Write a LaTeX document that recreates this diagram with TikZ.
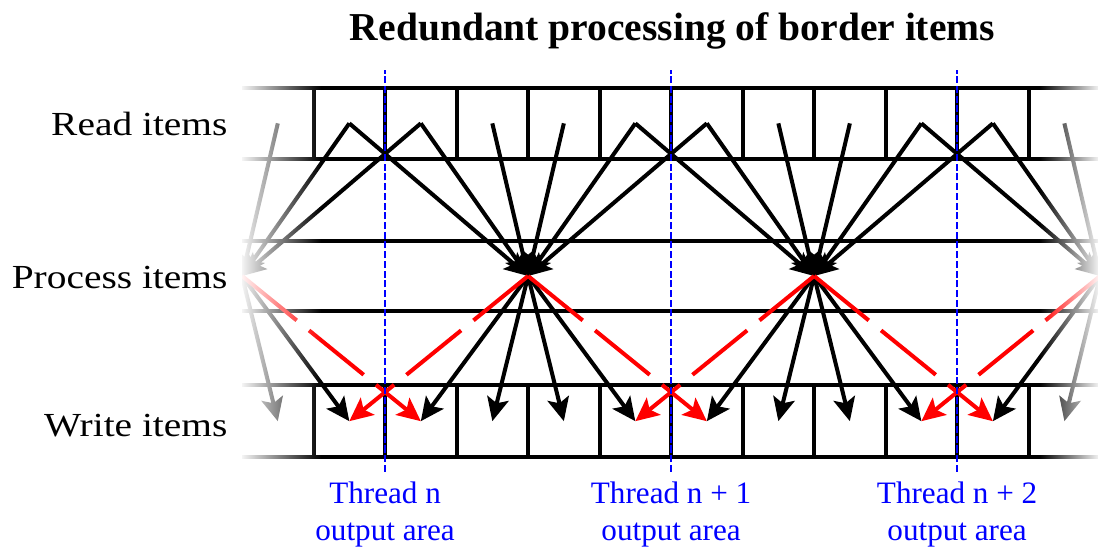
\documentclass[tikz,border=0pt]{standalone}
\usepackage{fontspec}
\setmainfont{Liberation Serif}
\newfontfamily\rowfont[FakeStretch=1.17]{Liberation Serif}
\usetikzlibrary{arrows.meta, fadings}

\begin{document}
\begin{tikzpicture}[
    x=1.5cm, y=1.5cm,
    grid/.style={line width=2.4pt},
    feed/.style={line width=2.4pt, -{Stealth[length=14pt, width=13pt, inset=3pt]}},
    spill/.style={feed, red, dash pattern=on 42pt off 9.5pt},
    border/.style={blue, line width=1.2pt, dash pattern=on 4.2pt off 1.6pt},
    rowlabel/.style={anchor=base east, inner sep=0pt,
                     font=\rowfont\fontsize{20.1}{24}\selectfont},
    threadlabel/.style={anchor=base, inner sep=0pt, align=center, text=blue,
                        font=\fontsize{18.6}{22.4}\selectfont}
  ]
  \useasboundingbox (-3.385,-1.30) rectangle (11.97,6.39);

  \foreach \i in {0,...,11} {
    \coordinate (r\i) at (\i+0.5,4.665);
    \coordinate (w\i) at (\i+0.5,0.5);
  }
  \foreach \j in {0,...,3}
    \coordinate (p\j) at (4*\j,2.53);

  \begin{scope}
    \clip (0,-0.5) rectangle (11.97,5.5);
    \foreach \y in {0,1,2.04,3.02,4.17,5.16}
      \draw[grid] (-0.5,\y) -- (12.5,\y);
    \foreach \x in {1,...,11} {
      \draw[grid] (\x,4.17) -- (\x,5.16);
      \draw[grid] (\x,0) -- (\x,1);
    }
    % every thread reads three items on each side of its split point
    \foreach \j in {0,...,3} {
      \foreach \d in {-3,...,2} {
        \pgfmathtruncatemacro{\i}{4*\j+\d}
        \ifnum\i>-1 \ifnum\i<12
          \draw[feed] (r\i) -- (p\j);
        \fi\fi
      }
    }
    % ... and writes two on each side, the outer ones are redundant
    \foreach \j in {0,...,3} {
      \foreach \d in {-2,...,1} {
        \pgfmathtruncatemacro{\i}{4*\j+\d}
        \ifnum\i>-1 \ifnum\i<12
          \draw[feed] (p\j) -- (w\i);
        \fi\fi
      }
      \foreach \d in {-3,2} {
        \pgfmathtruncatemacro{\i}{4*\j+\d}
        \ifnum\i>-1 \ifnum\i<12
          \draw[spill] (p\j) -- (w\i);
        \fi\fi
      }
    }
    \fill[white, path fading=east] (-0.05,-0.5) rectangle (1.1,5.5);
    \fill[white, path fading=west] (11.15,-0.5) rectangle (12.02,5.5);
  \end{scope}

  \foreach \x in {2,6,10}
    \draw[border] (\x,-0.21) -- (\x,5.41);

  \node[font=\fontsize{23.6}{28}\selectfont\bfseries, anchor=base, inner sep=0pt]
    (title) at (6.02,5.83) {Redundant processing of border items};
  \node[rowlabel] (read) at (-0.2,4.49) {Read items};
  \node[rowlabel] (process) at (-0.2,2.35) {Process items};
  \node[rowlabel] (write) at (-0.2,0.29) {Write items};
  \node[threadlabel] (t0) at (2,-1.17) {Thread n\\output area};
  \node[threadlabel] (t1) at (6,-1.17) {Thread n + 1\\output area};
  \node[threadlabel] (t2) at (10,-1.17) {Thread n + 2\\output area};
\end{tikzpicture}
\end{document}
